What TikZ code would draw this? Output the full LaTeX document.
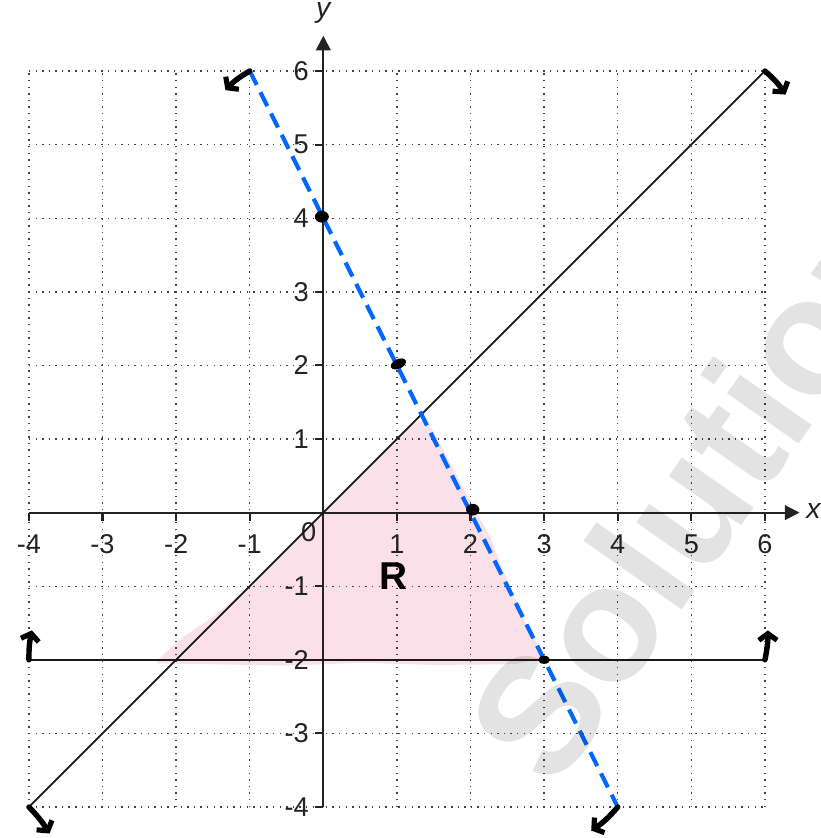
\documentclass[tikz,border=0pt]{standalone}
\usepackage{fontspec}
\setmainfont{Liberation Sans}
\usetikzlibrary{arrows.meta}
\definecolor{pinkfill}{RGB}{251,224,234}
\definecolor{dashblue}{RGB}{0,102,255}
\definecolor{axisgray}{RGB}{35,35,35}
\begin{document}
\begin{tikzpicture}[x=1cm,y=1cm,
  gridline/.style={black!75, line width=0.55pt, dotted},
  axisline/.style={axisgray, line width=0.8pt, -{Triangle[length=0.2cm,width=0.2cm]}},
  tickmark/.style={axisgray, line width=0.8pt},
  ticklabel/.style={font=\fontsize{10.5}{12}\selectfont, text=axisgray, inner sep=0pt},
  blackline/.style={black!90, line width=0.7pt},
  hline/.style={black!90, line width=0.9pt},
  dashline/.style={dashblue, line width=1.6pt, dash pattern=on 6pt off 3.2pt},
  handarrow/.style={line width=2.1pt, line cap=round, line join=round, -{Straight Barb[length=2.6pt,width=7pt,line width=2pt]}},
  dotmark/.style={fill=black},
]
\useasboundingbox (-4.393,-4.421) rectangle (6.75,6.965);

% shaded region R
\fill[pinkfill, rounded corners=2pt]
  (-2.3,-2.05) -- (-1.95,-1.72) -- (-1.5,-1.42) -- (-1.0,-1.0) -- (1.2,1.2) -- (1.35,1.27)
  -- (1.5,1.1) -- (1.7,0.72) -- (2.0,0.15) -- (2.25,-0.3) -- (2.45,-0.8) -- (2.7,-1.4)
  -- (3.0,-1.97) -- (2.6,-2.06) -- (1.5,-2.07) -- (0.5,-2.04) -- (-0.5,-2.08) -- (-1.5,-2.06) -- cycle;

% grid
\foreach \i in {-4,...,6} {
  \draw[gridline] (\i,-4) -- (\i,6);
  \draw[gridline] (-4,\i) -- (6,\i);
}

% named end points
\coordinate (Da) at (-1,6);
\coordinate (Db) at (4,-4);
\coordinate (Ea) at (-4,-4);
\coordinate (Eb) at (6,6);
\coordinate (Ha) at (-4,-2);
\coordinate (Hb) at (6,-2);
\coordinate (xs) at (-4,0);
\coordinate (xe) at (6.47,0);
\coordinate (ys) at (0,-4);
\coordinate (ye) at (0,6.48);

% axes
\draw[axisline] (xs) -- (xe);
\draw[axisline] (ys) -- (ye);
\foreach \i [count=\k] in {-4,-3,-2,-1,1,2,3,4,5,6} {
  \draw[tickmark] (\i,0) -- (\i,-0.11);
  \node[ticklabel] (xl\k) at (\i,-0.43) {\i};
  \draw[tickmark] (0,\i) -- (-0.11,\i);
  \node[ticklabel, anchor=east] (yl\k) at (-0.19,\i) {\i};
}
\node[ticklabel] (zero) at (-0.2,-0.27) {0};
\node[font=\itshape\fontsize{11}{13}\selectfont, text=axisgray, inner sep=0pt] (xlab) at (6.66,0.02) {x};
\node[font=\itshape\fontsize{11}{13}\selectfont, text=axisgray, inner sep=0pt] (ylab) at (0,6.79) {y};

% lines
\draw[blackline] (Ea) -- (Eb);
\draw[hline] (Ha) -- (Hb);
\draw[dashline] (Da) -- (Db);

% points
\fill[dotmark] (-0.02,4.02) ellipse (0.095 and 0.08);
\fill[dotmark, rotate around={25:(1.02,2.02)}] (1.02,2.02) ellipse (0.11 and 0.065);
\fill[dotmark] (2.03,0.04) ellipse (0.09 and 0.08);
\fill[dotmark] (3.0,-2.0) ellipse (0.08 and 0.055);

% hand-drawn arrow ends
\coordinate (h1) at (-1.33,5.74);
\coordinate (h2) at (6.28,5.68);
\coordinate (h3) at (-3.96,-1.6);
\coordinate (h4) at (-3.72,-4.36);
\coordinate (h5) at (6.04,-1.6);
\coordinate (h6) at (3.64,-4.32);
\draw[handarrow] (Da) to[bend right=8] (h1);
\draw[handarrow] (Eb) to[bend left=8] (h2);
\draw[handarrow] (Ha) to[bend left=6] (h3);
\draw[handarrow] (Ea) to[bend left=6] (h4);
\draw[handarrow] (Hb) to[bend right=6] (h5);
\draw[handarrow] (Db) to[bend left=8] (h6);

% region label
\node[font=\fontsize{15}{18}\selectfont\bfseries, inner sep=0pt] (R) at (0.96,-0.86) {R};

% watermark
\node[rotate=55, anchor=west, inner sep=0pt, text=black, text opacity=0.11,
      font=\fontsize{64}{70}\selectfont\bfseries] (wm) at (2.48,-3.35) {Solutions};
\end{tikzpicture}
\end{document}
